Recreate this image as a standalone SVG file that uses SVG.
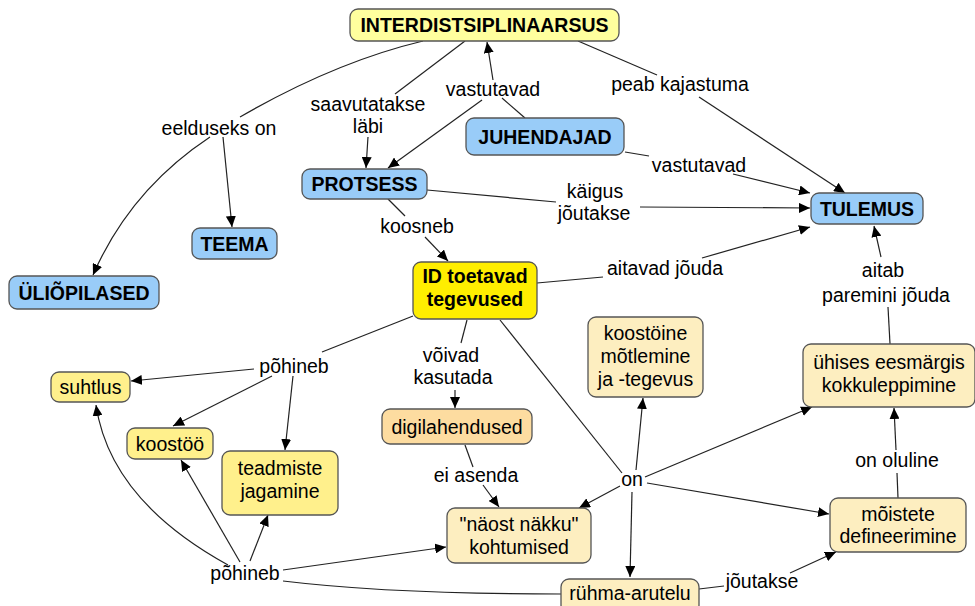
<svg xmlns="http://www.w3.org/2000/svg" width="975" height="606" viewBox="0 0 975 606">
<defs>
<marker id="ah" markerWidth="11" markerHeight="10" refX="11" refY="5" orient="auto" markerUnits="userSpaceOnUse">
<path d="M0,0 L11,5 L0,10 z" fill="#000"/>
</marker>
<style>
text{font-family:"Liberation Sans",Arial,sans-serif;font-size:19.5px;fill:#000;text-anchor:middle}
.b{font-weight:bold}
.n{stroke:#555;stroke-width:1.3}
.blue{fill:#99ccf8}
.pale{fill:#ffff9e}
.yel{fill:#fff08c}
.cream{fill:#fdeec0}
.peach{fill:#fddca0}
.id{fill:#ffee00}
#conn path{fill:none;stroke:#222;stroke-width:1.2}
#conn .a{marker-end:url(#ah)}
</style>
</defs>
<rect x="0" y="0" width="975" height="606" fill="#fff"/>
<g id="conn">
<path d="M423,41 Q335,62 240,117"/>
<path class="a" d="M210,137 Q130,190 93,275"/>
<path class="a" d="M223,137 L232,227"/>
<path d="M465,41 L395,94"/>
<path class="a" d="M368,137 L366,168"/>
<path d="M525,118 L502,98"/>
<path class="a" d="M493,80 L487,42"/>
<path class="a" d="M482,100 L388,168"/>
<path d="M578,41 L657,75"/>
<path class="a" d="M699,97 L845,193"/>
<path d="M625,152 L649,156"/>
<path class="a" d="M733,174 L810,193"/>
<path d="M427,190 L556,202"/>
<path class="a" d="M640,207 L810,208"/>
<path d="M388,199 L405,216"/>
<path class="a" d="M425,237 L448,261"/>
<path d="M537,283 L603,277"/>
<path class="a" d="M702,258 L810,227"/>
<path d="M413,316 L322,352"/>
<path class="a" d="M254,369 L131,381"/>
<path class="a" d="M272,376 L173,426"/>
<path class="a" d="M293,376 L285,450"/>
<path d="M467,320 L461,343"/>
<path class="a" d="M455,390 L455,408"/>
<path d="M465,445 L473,467"/>
<path class="a" d="M483,485 L499,507"/>
<path d="M500,320 L622,473"/>
<path class="a" d="M620,486 L579,508"/>
<path class="a" d="M636,470 L643,398"/>
<path class="a" d="M632,492 L630,577"/>
<path class="a" d="M645,477 L812,407"/>
<path class="a" d="M647,483 L829,514"/>
<path d="M890,344 L888,307"/>
<path class="a" d="M881,257 L874,226"/>
<path d="M898,498 L897,473"/>
<path class="a" d="M896,450 L894,408"/>
<path d="M699,589 L724,586"/>
<path class="a" d="M790,573 L836,552"/>
<path class="a" d="M228,565 Q110,500 96,405"/>
<path class="a" d="M240,562 L181,460"/>
<path class="a" d="M250,561 L268,515"/>
<path class="a" d="M283,570 L446,547"/>
<path d="M561,594 Q390,594 283,581"/>
</g>
<g id="interdistsiplinaarsus"><rect class="n pale" x="350" y="9" width="269" height="32" rx="8"/><text class="b" x="484.5" y="32">INTERDISTSIPLINAARSUS</text></g>
<g id="juhendajad"><rect class="n blue" x="466" y="118" width="158" height="37" rx="8"/><text class="b" x="545" y="143.5">JUHENDAJAD</text></g>
<g id="protsess"><rect class="n blue" x="302" y="169" width="125" height="30" rx="8"/><text class="b" x="364.5" y="191">PROTSESS</text></g>
<g id="tulemus"><rect class="n blue" x="811" y="193" width="112" height="31" rx="8"/><text class="b" x="867" y="215.5">TULEMUS</text></g>
<g id="teema"><rect class="n blue" x="192" y="228" width="85" height="31" rx="8"/><text class="b" x="234.5" y="250.5">TEEMA</text></g>
<g id="yliopilased"><rect class="n blue" x="9" y="276" width="150" height="33" rx="8"/><text class="b" x="84" y="300">ÜLIÕPILASED</text></g>
<g id="id-tegevused"><rect class="n id" x="413" y="262" width="124" height="57" rx="8"/><text class="b" x="475" y="283">ID toetavad</text><text class="b" x="475" y="306">tegevused</text></g>
<g id="suhtlus"><rect class="n yel" x="51" y="372" width="79" height="30" rx="8"/><text x="90.5" y="394">suhtlus</text></g>
<g id="koostoo"><rect class="n yel" x="127" y="428" width="86" height="31" rx="8"/><text x="170" y="450.5">koostöö</text></g>
<g id="teadmiste"><rect class="n yel" x="222" y="451" width="116" height="64" rx="8"/><text x="280" y="475">teadmiste</text><text x="280" y="498">jagamine</text></g>
<g id="digilahendused"><rect class="n peach" x="382" y="409" width="150" height="35" rx="8"/><text x="457" y="433.5">digilahendused</text></g>
<g id="naost-nakku"><rect class="n cream" x="447" y="508" width="144" height="55" rx="8"/><text x="519" y="531">"näost näkku"</text><text x="519" y="554">kohtumised</text></g>
<g id="ruhma-arutelu"><rect class="n cream" x="561" y="579" width="138" height="34" rx="8"/><text x="630" y="600">rühma-arutelu</text></g>
<g id="koostoine"><rect class="n cream" x="588" y="317" width="115" height="80" rx="8"/><text x="645.5" y="340">koostöine</text><text x="645.5" y="363">mõtlemine</text><text x="645.5" y="386">ja -tegevus</text></g>
<g id="uhises"><rect class="n cream" x="803" y="344" width="172" height="63" rx="8"/><text x="889" y="369">ühises eesmärgis</text><text x="889" y="392">kokkuleppimine</text></g>
<g id="moistete"><rect class="n cream" x="830" y="498" width="136" height="54" rx="8"/><text x="898" y="521">mõistete</text><text x="898" y="543">defineerimine</text></g>
<g id="labels">
<text x="219" y="135">eelduseks on</text>
<text x="368" y="111">saavutatakse</text>
<text x="368" y="133">läbi</text>
<text x="493" y="96">vastutavad</text>
<text x="680" y="91">peab kajastuma</text>
<text x="699" y="172">vastutavad</text>
<text x="595" y="198">käigus</text>
<text x="594" y="220">jõutakse</text>
<text x="417" y="233">koosneb</text>
<text x="665" y="275">aitavad jõuda</text>
<text x="451" y="362">võivad</text>
<text x="453" y="384">kasutada</text>
<text x="294" y="373">põhineb</text>
<text x="883" y="277">aitab</text>
<text x="886" y="302">paremini jõuda</text>
<text x="476" y="482">ei asenda</text>
<text x="632" y="486">on</text>
<text x="897" y="467">on oluline</text>
<text x="762" y="588">jõutakse</text>
<text x="245" y="580">põhineb</text>
</g>
</svg>
